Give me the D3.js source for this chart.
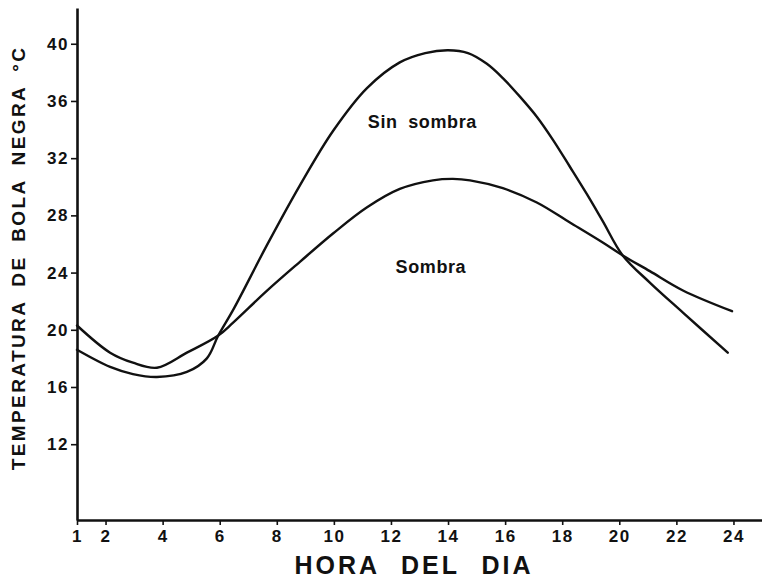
<!DOCTYPE html>
<html>
<head>
<meta charset="utf-8">
<script src="https://cdn.jsdelivr.net/npm/d3@7"></script>
<style>
  body { margin: 0; background: #fff; }
  svg { display: block; }
</style>
</head>
<body>
<svg id="chart" width="762" height="579"></svg>
<script>
// Globe temperature over the day, unshaded vs shaded
const hoursSinSombra = [1, 2.16, 2.96, 3.8, 4.85, 5.55, 5.95, 6.5, 7.65, 8.81, 9.97, 11.16, 12.31, 13.2, 14.0, 14.7, 15.36, 15.92, 16.52, 17.11, 17.67, 18.27, 18.86, 19.42, 20.12, 21.07, 22.23, 23.8];
const tempSinSombra  = [18.6, 17.4, 16.9, 16.7, 17.05, 18.0, 19.6, 21.5, 25.9, 30.1, 33.9, 36.9, 38.7, 39.35, 39.55, 39.35, 38.6, 37.6, 36.3, 34.9, 33.3, 31.4, 29.5, 27.6, 25.2, 23.3, 21.2, 18.4];

const hoursSombra = [1, 2.16, 2.96, 3.8, 4.85, 5.95, 6.47, 7.64, 8.81, 9.98, 11.15, 12.31, 13.47, 14.17, 14.77, 15.92, 17.11, 18.27, 19.42, 20.12, 21.07, 22.23, 23.95];
const tempSombra  = [20.3, 18.4, 17.7, 17.35, 18.4, 19.6, 20.5, 22.7, 24.75, 26.75, 28.55, 29.85, 30.45, 30.55, 30.45, 29.9, 28.9, 27.5, 26.1, 25.2, 24.1, 22.75, 21.3];

const xTickValues = [1, 2, 4, 6, 8, 10, 12, 14, 16, 18, 20, 22, 24];
const yTickValues = [12, 16, 20, 24, 28, 32, 36, 40];
const seriesLabels = ["Sin sombra", "Sombra"];
const xTitle = "HORA DEL DIA";
const yTitle = "TEMPERATURA DE BOLA NEGRA °C";

const width = 762, height = 579;
const margin = { top: 8, right: 0, bottom: 59, left: 77 };
const ink = "#111";
const font = "'Liberation Sans', Arial, sans-serif";

const svg = d3.select("#chart");
svg.append("rect").attr("width", width).attr("height", height).attr("fill", "#fff");

const x = d3.scaleLinear().domain([1, 25]).range([margin.left, width - margin.right]);
const y = d3.scaleLinear().domain([6.7, 42.5]).range([height - margin.bottom, margin.top]);

// Axes
const xAxis = d3.axisBottom(x).tickValues(xTickValues).tickFormat(d3.format("d"))
  .tickSizeInner(5).tickSizeOuter(0).tickPadding(5);
const yAxis = d3.axisLeft(y).tickValues(yTickValues).tickFormat(d3.format("d"))
  .tickSizeInner(6).tickSizeOuter(0).tickPadding(2);

const gx = svg.append("g").attr("transform", `translate(0,${height - margin.bottom})`).call(xAxis);
const gy = svg.append("g").attr("transform", `translate(${margin.left},0)`).call(yAxis);

[gx, gy].forEach(g => {
  g.select(".domain").attr("stroke", ink).attr("stroke-width", 2.6);
  g.selectAll(".tick line").attr("stroke", ink).attr("stroke-width", 1.6);
  g.selectAll(".tick text")
    .attr("fill", ink)
    .style("font-family", font)
    .style("font-weight", "bold")
    .style("font-size", "17px")
    .style("letter-spacing", "1.5px");
});

// Curves
const line = d3.line()
  .x(d => x(d[0]))
  .y(d => y(d[1]))
  .curve(d3.curveCatmullRom.alpha(0.5));

const seriesData = [
  d3.zip(hoursSinSombra, tempSinSombra),
  d3.zip(hoursSombra, tempSombra)
];

svg.append("g").selectAll("path")
  .data(seriesData)
  .join("path")
  .attr("d", line)
  .attr("fill", "none")
  .attr("stroke", ink)
  .attr("stroke-width", 2.4)
  .attr("stroke-linejoin", "round")
  .attr("stroke-linecap", "round");

// In-plot series labels
const labelPos = [[13.1, 34.1], [13.4, 24.0]];
svg.append("g").selectAll("text")
  .data(seriesLabels)
  .join("text")
  .attr("x", (d, i) => x(labelPos[i][0]))
  .attr("y", (d, i) => y(labelPos[i][1]))
  .attr("text-anchor", "middle")
  .attr("fill", ink)
  .style("font-family", font)
  .style("font-weight", "bold")
  .style("font-size", "18px")
  .style("letter-spacing", "0.6px")
  .style("word-spacing", "5px")
  .text(d => d);

// Axis titles
svg.append("text")
  .attr("x", 414)
  .attr("y", 574)
  .attr("text-anchor", "middle")
  .attr("fill", ink)
  .style("font-family", font)
  .style("font-weight", "bold")
  .style("font-size", "25px")
  .style("letter-spacing", "3px")
  .style("word-spacing", "12px")
  .text(xTitle);

svg.append("text")
  .attr("transform", "translate(25,258) rotate(-90)")
  .attr("text-anchor", "middle")
  .attr("fill", ink)
  .style("font-family", font)
  .style("font-weight", "bold")
  .style("font-size", "19px")
  .style("letter-spacing", "2.4px")
  .style("word-spacing", "6px")
  .text(yTitle);
</script>
</body>
</html>
